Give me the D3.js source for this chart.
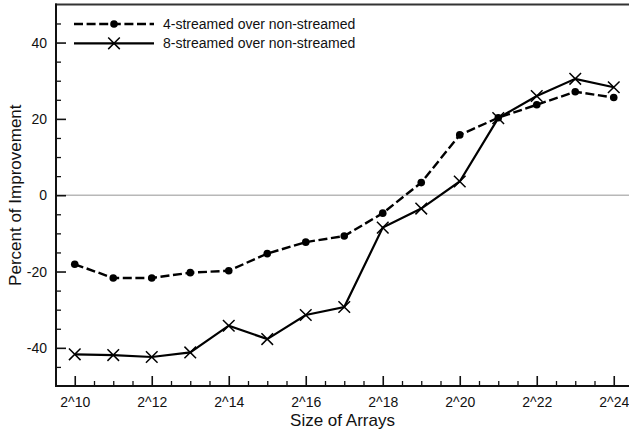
<!DOCTYPE html>
<html>
<head>
<meta charset="utf-8">
<script src="https://cdn.jsdelivr.net/npm/d3@7/dist/d3.min.js"></script>
<style>
  html, body { margin: 0; padding: 0; background: #fff; }
  svg text { font-family: "Liberation Sans", Arial, Helvetica, sans-serif; fill: #111; }
</style>
</head>
<body>
<svg id="chart" width="629" height="435"></svg>
<script>
// Data (exponent of 2 for array size)
const exponents = [10, 11, 12, 13, 14, 15, 16, 17, 18, 19, 20, 21, 22, 23, 24];
const streamed4 = [-18.1, -21.7, -21.7, -20.3, -19.8, -15.3, -12.3, -10.7, -4.7, 3.3, 15.8, 20.3, 23.7, 27.1, 25.6];
const streamed8 = [-41.7, -41.9, -42.4, -41.2, -34.2, -37.7, -31.4, -29.3, -8.5, -3.5, 3.6, 20.2, 26.0, 30.5, 28.3];
const seriesNames = ["4-streamed over non-streamed", "8-streamed over non-streamed"];
const xTickExps = [10, 12, 14, 16, 18, 20, 22, 24];
const yTickValues = [-40, -20, 0, 20, 40];
const xLabel = "Size of Arrays";
const yLabel = "Percent of Improvement";

(function () {
const svg = d3.select("#chart");
const W = 629;
const plotLeft = 56, plotTop = 4.4, plotBottom = 386;
const DASH = "9,3.6";

const x = d3.scaleLinear().domain([9.5, 24.5]).range([55.5, 633]);
const y = d3.scaleLinear().domain([-50, 50]).range([plotBottom, plotTop]);

// zero line
svg.append("line")
  .attr("x1", plotLeft).attr("x2", W)
  .attr("y1", y(0)).attr("y2", y(0))
  .attr("stroke", "#b8b8b8").attr("stroke-width", 1.6);

// top border
svg.append("line")
  .attr("x1", plotLeft - 1).attr("x2", W)
  .attr("y1", plotTop).attr("y2", plotTop)
  .attr("stroke", "#333").attr("stroke-width", 2);

// X axis
const xMinor = d3.range(9.5, 24.51, 0.5).filter(v => !xTickExps.includes(v));
svg.append("g").attr("transform", `translate(0,${plotBottom})`)
  .call(d3.axisTop(x).tickValues(xMinor).tickSize(5).tickFormat(""))
  .call(g => g.select(".domain").remove())
  .call(g => g.selectAll("line").attr("stroke", "#111").attr("stroke-width", 1.3));
svg.append("g").attr("transform", `translate(0,${plotBottom})`)
  .call(d3.axisTop(x).tickValues(xTickExps).tickSize(10).tickFormat(""))
  .call(g => g.select(".domain").remove())
  .call(g => g.selectAll("line").attr("stroke", "#111").attr("stroke-width", 1.6));
svg.append("g").attr("transform", `translate(0,${plotBottom})`)
  .call(d3.axisBottom(x).tickValues(xTickExps).tickSize(0).tickPadding(0).tickFormat(d => "2^" + d))
  .call(g => g.select(".domain").remove())
  .call(g => g.selectAll("text").attr("dy", null).attr("y", 20.5)
    .style("font-size", "14px").attr("fill", "#111"));
svg.append("line")
  .attr("x1", plotLeft - 1).attr("x2", W)
  .attr("y1", plotBottom).attr("y2", plotBottom)
  .attr("stroke", "#111").attr("stroke-width", 2);

// Y axis
const yMinor = d3.range(-45, 46, 5).filter(v => !yTickValues.includes(v));
svg.append("g").attr("transform", `translate(${plotLeft},0)`)
  .call(d3.axisRight(y).tickValues(yMinor).tickSize(5).tickFormat(""))
  .call(g => g.select(".domain").remove())
  .call(g => g.selectAll("line").attr("stroke", "#111").attr("stroke-width", 1.3));
svg.append("g").attr("transform", `translate(${plotLeft},0)`)
  .call(d3.axisRight(y).tickValues(yTickValues).tickSize(10).tickFormat(""))
  .call(g => g.select(".domain").remove())
  .call(g => g.selectAll("line").attr("stroke", "#111").attr("stroke-width", 1.6));
svg.append("g").attr("transform", `translate(${plotLeft},0)`)
  .call(d3.axisLeft(y).tickValues(yTickValues).tickSize(0).tickPadding(9).tickFormat(d => d))
  .call(g => g.select(".domain").remove())
  .call(g => g.selectAll("text").style("font-size", "14px").attr("fill", "#111"));
svg.append("line")
  .attr("x1", plotLeft).attr("x2", plotLeft)
  .attr("y1", plotTop - 1).attr("y2", plotBottom + 1)
  .attr("stroke", "#111").attr("stroke-width", 2);

// Axis titles
svg.append("text")
  .attr("x", (plotLeft + W) / 2).attr("y", 426)
  .attr("text-anchor", "middle")
  .style("font-size", "17px")
  .text(xLabel);
svg.append("text")
  .attr("transform", `translate(21,${y(0)}) rotate(-90)`)
  .attr("text-anchor", "middle")
  .style("font-size", "17px")
  .text(yLabel);

// Lines
const line = d3.line().x(d => x(d[0])).y(d => y(d[1]));
const d4 = exponents.map((e, i) => [e, streamed4[i]]);
const d8 = exponents.map((e, i) => [e, streamed8[i]]);

svg.append("path").datum(d8)
  .attr("d", line).attr("fill", "none")
  .attr("stroke", "#000").attr("stroke-width", 2.2);
svg.append("path").datum(d4)
  .attr("d", line).attr("fill", "none")
  .attr("stroke", "#000").attr("stroke-width", 2.4)
  .attr("stroke-dasharray", DASH);

const xMark = (g, cx, cy, s) => {
  g.append("path")
    .attr("d", `M${cx - s},${cy - s}L${cx + s},${cy + s}M${cx - s},${cy + s}L${cx + s},${cy - s}`)
    .attr("stroke", "#000").attr("stroke-width", 1.5).attr("fill", "none");
};

const m8 = svg.append("g");
d8.forEach(d => xMark(m8, x(d[0]), y(d[1]), 5.8));
svg.append("g").selectAll("circle").data(d4).join("circle")
  .attr("cx", d => x(d[0])).attr("cy", d => y(d[1]))
  .attr("r", 3.8).attr("fill", "#000");

// Legend
const lg = svg.append("g");
const rows = [24, 43.3];
lg.append("line").attr("x1", 74).attr("x2", 154).attr("y1", rows[0]).attr("y2", rows[0])
  .attr("stroke", "#000").attr("stroke-width", 2.4).attr("stroke-dasharray", DASH);
lg.append("circle").attr("cx", 114).attr("cy", rows[0]).attr("r", 3.8).attr("fill", "#000");
lg.append("line").attr("x1", 74).attr("x2", 154).attr("y1", rows[1]).attr("y2", rows[1])
  .attr("stroke", "#000").attr("stroke-width", 2.2);
xMark(lg, 114, rows[1], 5.8);
seriesNames.forEach((n, i) => {
  lg.append("text").attr("x", 163).attr("y", rows[i]).attr("dy", "0.35em")
    .style("font-size", "14px").text(n);
});
})();
</script>
</body>
</html>
